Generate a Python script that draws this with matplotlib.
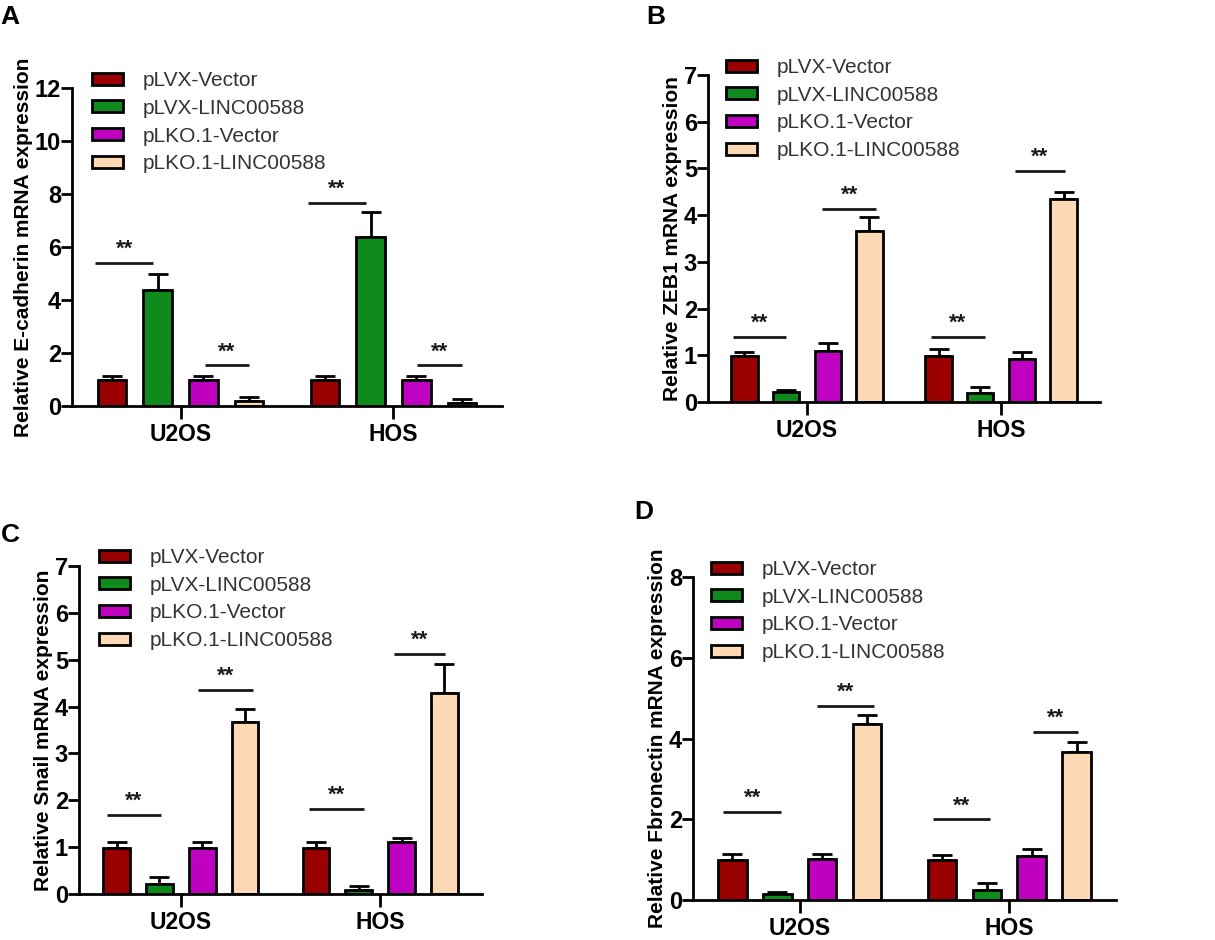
import numpy as np
import matplotlib
matplotlib.use("Agg")
import matplotlib.pyplot as plt
from matplotlib.patches import Patch

plt.rcParams['font.family'] = ['Liberation Sans', 'DejaVu Sans']

# data
cells = ["U2OS", "HOS"]
groups = ["pLVX-Vector", "pLVX-LINC00588", "pLKO.1-Vector", "pLKO.1-LINC00588"]
colors = ["#9a0000", "#0f8a1c", "#c000c0", "#fdd9b5"]

ecad_mean = [[1.0, 4.38, 1.0, 0.18], [1.0, 6.36, 0.98, 0.11]]
ecad_top = [[1.15, 5.0, 1.15, 0.34], [1.12, 7.31, 1.15, 0.25]]
zeb1_mean = [[0.99, 0.21, 1.10, 3.67], [0.99, 0.19, 0.93, 4.34]]
zeb1_top = [[1.07, 0.26, 1.26, 3.95], [1.13, 0.33, 1.07, 4.49]]
snail_mean = [[0.98, 0.22, 0.98, 3.68], [0.98, 0.08, 1.10, 4.29]]
snail_top = [[1.11, 0.36, 1.11, 3.95], [1.12, 0.17, 1.20, 4.90]]
fbn_mean = [[0.99, 0.14, 1.01, 4.35], [0.99, 0.25, 1.09, 3.66]]
fbn_top = [[1.14, 0.21, 1.15, 4.59], [1.11, 0.41, 1.27, 3.92]]

# significance lines: (x start, x end, y) in data units
ecad_sig = [(-0.40, -0.13, 5.4), (0.114, 0.322, 1.53), (0.599, 0.871, 7.67), (1.112, 1.322, 1.53)]
zeb1_sig = [(-0.382, -0.107, 1.40), (0.079, 0.358, 4.14), (0.639, 0.917, 1.40), (1.072, 1.33, 4.95)]
snail_sig = [(-0.372, -0.097, 1.69), (0.087, 0.362, 4.36), (0.642, 0.917, 1.81), (1.067, 1.323, 5.12)]
fbn_sig = [(-0.365, -0.090, 2.19), (0.081, 0.353, 4.81), (0.636, 0.908, 2.0), (1.114, 1.328, 4.17)]

panels = [
    dict(letter="A", ylabel="Relative E-cadherin mRNA expression", mean=ecad_mean, top=ecad_top,
         sig=ecad_sig, ymax=12, step=2, rect=[72, 502, 88, 406], leg=(92, 71), let=(0, 5)),
    dict(letter="B", ylabel="Relative ZEB1 mRNA expression", mean=zeb1_mean, top=zeb1_top,
         sig=zeb1_sig, ymax=7, step=1, rect=[708, 1100, 75, 402], leg=(726, 58), let=(646, 5)),
    dict(letter="C", ylabel="Relative Snail mRNA expression", mean=snail_mean, top=snail_top,
         sig=snail_sig, ymax=7, step=1, rect=[79, 482, 566, 894], leg=(99, 548), let=(1, 523)),
    dict(letter="D", ylabel="Relative Fbronectin mRNA expression", mean=fbn_mean, top=fbn_top,
         sig=fbn_sig, ymax=8, step=2, rect=[693, 1116, 577, 900], leg=(711, 560), let=(634, 500)),
]

W, H = 1215, 940
fig = plt.figure(figsize=(W / 100, H / 100), dpi=100)

offsets = np.array([-0.322, -0.107, 0.107, 0.322])
width = 0.135
x = np.arange(len(cells))

for p in panels:
    l, r, t, b = p["rect"]
    ax = fig.add_axes([l / W, 1 - b / H, (r - l) / W, (b - t) / H])
    mean = np.array(p["mean"])
    top = np.array(p["top"])
    for j in range(len(groups)):
        xs = x + offsets[j]
        err = top[:, j] - mean[:, j]
        ax.errorbar(xs, mean[:, j], yerr=[np.zeros(len(cells)), err], fmt="none",
                    ecolor="black", elinewidth=2, capsize=7, capthick=2, zorder=1)
        ax.bar(xs, mean[:, j], width, color=colors[j], edgecolor="black", linewidth=2, zorder=2)
    unit = p["ymax"] / (b - t)
    for x0, x1, y in p["sig"]:
        ax.plot([x0, x1], [y, y], color="#1a1a1a", lw=2, solid_capstyle="butt")
        ax.text((x0 + x1) / 2, y + 3 * unit, "**", ha="center", va="bottom",
                fontsize=16, fontweight="bold", color="#1a1a1a")
    ax.set_xlim(-0.51, 1.51)
    ax.set_ylim(0, p["ymax"])
    ax.set_yticks(np.arange(0, p["ymax"] + 0.01, p["step"]))
    ax.set_xticks(x)
    ax.set_xticklabels(cells, fontsize=16.5, fontweight="bold")
    for lab in ax.get_yticklabels():
        lab.set_fontweight("bold")
        lab.set_fontsize(17)
    ax.tick_params(axis="y", length=8, width=2, pad=0)
    ax.tick_params(axis="x", length=9, width=2, pad=3)
    ax.spines["top"].set_visible(False)
    ax.spines["right"].set_visible(False)
    ax.spines["left"].set_linewidth(2)
    ax.spines["bottom"].set_linewidth(2)
    ax.set_ylabel(p["ylabel"], fontsize=15, fontweight="bold", labelpad=1)

    handles = [Patch(facecolor=c, edgecolor="black", linewidth=2) for c in colors]
    lx, ly = p["leg"]
    ax.legend(handles, groups, loc="upper left", bbox_to_anchor=(lx / W, 1 - ly / H),
              bbox_transform=fig.transFigure, frameon=False, fontsize=15,
              handlelength=1.5, handleheight=0.5, handletextpad=0.95, labelspacing=0.42,
              borderpad=0, borderaxespad=0, labelcolor="#333333")

    lx, ly = p["let"]
    fig.text(lx / W, 1 - ly / H, p["letter"], fontsize=19, fontweight="bold", ha="left", va="top")

fig.savefig("out.png", dpi=100)
